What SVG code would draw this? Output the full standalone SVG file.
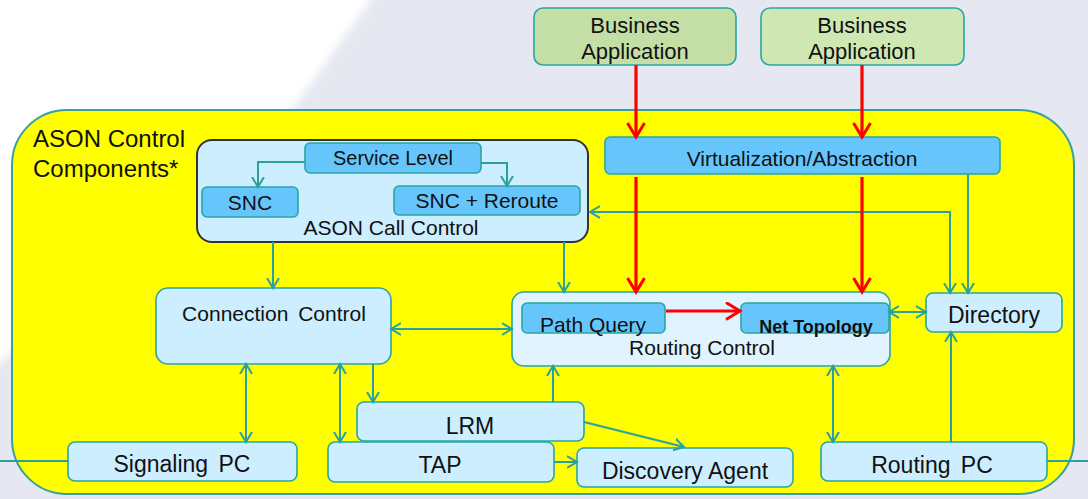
<svg xmlns="http://www.w3.org/2000/svg" width="1088" height="499" viewBox="0 0 1088 499">
<defs>
<filter id="soft" x="-10%" y="-10%" width="120%" height="120%"><feGaussianBlur stdDeviation="4"/></filter>
<marker id="ah" markerUnits="userSpaceOnUse" markerWidth="14" markerHeight="14" refX="10" refY="7" orient="auto-start-reverse">
<path d="M0,1 L10,7 L0,13" fill="none" stroke="#2aa19c" stroke-width="2"/>
</marker>
<marker id="rh" markerUnits="userSpaceOnUse" markerWidth="20" markerHeight="20" refX="15" refY="9.5" orient="auto">
<path d="M1,1 L15,9.5 L1,18" fill="none" stroke="#ff0000" stroke-width="3"/>
</marker>
</defs>
<style>
text{font-family:"Liberation Sans",Arial,sans-serif;fill:#111;text-anchor:middle}
.lb{fill:#cdeeff;stroke:#2aa5a2;stroke-width:1.6}
.mb{fill:#66c6fc;stroke:#2aa5a2;stroke-width:1.6}
.c{fill:none;stroke:#2aa19c;stroke-width:2}
.r{fill:none;stroke:#ff0000;stroke-width:3.2}
.f21{font-size:21px}
.f23{font-size:23px}
</style>
<rect width="1088" height="499" fill="#ffffff"/>
<polygon points="385,-20 1110,-20 1110,520 -20,520 -20,380 292,110" fill="#e6e8f1" filter="url(#soft)"/>
<rect x="12" y="110" width="1062" height="384" rx="55" fill="#ffff00" stroke="#3a9fa0" stroke-width="2"/>
<g id="title"><text x="33" y="147" style="font-size:24px;text-anchor:start">ASON Control</text><text x="33" y="177" style="font-size:24px;text-anchor:start">Components*</text></g>
<g id="biz1"><rect x="534" y="8" width="202" height="57" rx="9" fill="#c3dfa5" stroke="#2aa5a2" stroke-width="1.6"/><text x="635" y="33" style="font-size:22px">Business</text><text x="635" y="59" style="font-size:22px">Application</text></g>
<g id="biz2"><rect x="761" y="8" width="203" height="57" rx="9" fill="#cfe8b3" stroke="#2aa5a2" stroke-width="1.6"/><text x="862" y="33" style="font-size:22px">Business</text><text x="862" y="59" style="font-size:22px">Application</text></g>
<g id="virt"><rect class="mb" x="605" y="137" width="395" height="37" rx="5"/><text class="f21" x="802" y="166">Virtualization/Abstraction</text></g>
<g id="callctl"><rect x="197" y="140" width="391" height="102" rx="15" fill="#cdeeff" stroke="#333" stroke-width="2"/><text class="f21" x="391" y="235">ASON Call Control</text></g>
<g id="svclvl"><rect class="mb" x="305" y="143" width="176" height="30" rx="5"/><text x="393" y="165" style="font-size:20px">Service Level</text></g>
<g id="snc"><rect class="mb" x="202" y="187" width="96" height="30" rx="5"/><text class="f21" x="250" y="210">SNC</text></g>
<g id="sncr"><rect class="mb" x="394" y="186" width="186" height="29" rx="5"/><text class="f21" x="487" y="208">SNC + Reroute</text></g>
<g id="connctl"><rect class="lb" x="156" y="288" width="235" height="76" rx="12"/><text class="f21" x="274" y="321" style="word-spacing:4px">Connection Control</text></g>
<g id="routctl"><rect x="512" y="292" width="378" height="74" rx="12" fill="#e0f3ff" stroke="#2aa5a2" stroke-width="1.6"/><text class="f21" x="702" y="355">Routing Control</text></g>
<g id="pathq"><rect class="mb" x="522" y="303" width="143" height="30" rx="5"/><text class="f21" x="593" y="332">Path Query</text></g>
<g id="nettopo"><rect class="mb" x="741" y="303" width="148" height="30" rx="5"/><text x="816" y="333" style="font-size:18px;font-weight:bold">Net Topology</text></g>
<g id="dir"><rect class="lb" x="926" y="293" width="136" height="39" rx="7"/><text class="f23" x="994" y="323">Directory</text></g>
<g id="lrm"><rect class="lb" x="357" y="402" width="227" height="39" rx="7"/><text class="f23" x="470" y="434">LRM</text></g>
<g id="tap"><rect class="lb" x="328" y="442" width="226" height="40" rx="7"/><text class="f23" x="440" y="473">TAP</text></g>
<g id="sigpc"><rect class="lb" x="68" y="442" width="229" height="39" rx="7"/><text class="f23" x="182" y="472" style="word-spacing:4px">Signaling PC</text></g>
<g id="disc"><rect class="lb" x="577" y="448" width="216" height="39" rx="7"/><text class="f23" x="685" y="479">Discovery Agent</text></g>
<g id="routpc"><rect class="lb" x="821" y="442" width="226" height="39" rx="7"/><text class="f23" x="932" y="473" style="word-spacing:4px">Routing PC</text></g>
<g id="connectors">
<path class="c" d="M305,162 H258 V187" marker-end="url(#ah)"/>
<path class="c" d="M481,163 H507 V186" marker-end="url(#ah)"/>
<path class="c" d="M273,242 V288" marker-end="url(#ah)"/>
<path class="c" d="M564,242 V292" marker-end="url(#ah)"/>
<path class="c" d="M590,212 H950 V293" marker-start="url(#ah)" marker-end="url(#ah)"/>
<path class="c" d="M968,174 V293" marker-end="url(#ah)"/>
<path class="c" d="M391,329 H512" marker-start="url(#ah)" marker-end="url(#ah)"/>
<path class="c" d="M889,312 H926" marker-start="url(#ah)" marker-end="url(#ah)"/>
<path class="c" d="M246,364 V442" marker-start="url(#ah)" marker-end="url(#ah)"/>
<path class="c" d="M340,364 V442" marker-start="url(#ah)" marker-end="url(#ah)"/>
<path class="c" d="M373,364 V402" marker-end="url(#ah)"/>
<path class="c" d="M553,402 V366" marker-end="url(#ah)"/>
<path class="c" d="M584,422 L684,447" marker-end="url(#ah)"/>
<path class="c" d="M554,462 H577" marker-end="url(#ah)"/>
<path class="c" d="M833,366 V442" marker-start="url(#ah)" marker-end="url(#ah)"/>
<path class="c" d="M951,442 V332" marker-end="url(#ah)"/>
<path class="c" d="M0,461 H68"/>
<path class="c" d="M1047,461 H1088"/>
<path class="r" d="M636,65 V137" marker-end="url(#rh)"/>
<path class="r" d="M862,65 V137" marker-end="url(#rh)"/>
<path class="r" d="M636,177 V292" marker-end="url(#rh)"/>
<path class="r" d="M862,177 V292" marker-end="url(#rh)"/>
<path class="r" d="M666,311 H740" marker-end="url(#rh)"/>
</g>
</svg>
